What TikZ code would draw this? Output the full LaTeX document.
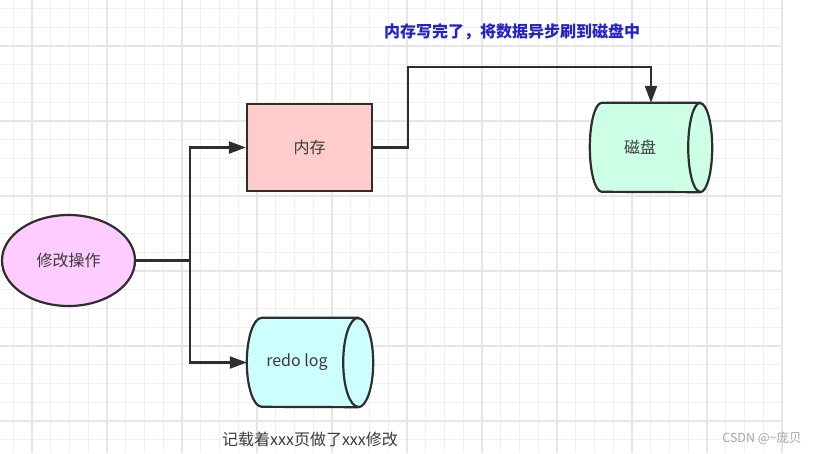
\documentclass[tikz,border=0pt]{standalone}
\usepackage{fontspec}
\setmainfont{Noto Sans CJK SC}
\usetikzlibrary{arrows.meta,shapes.geometric}
\definecolor{strokec}{HTML}{2E2E2E}
\definecolor{textc}{HTML}{3A3A3A}
\definecolor{opfill}{HTML}{FFCCFF}
\definecolor{memfill}{HTML}{FFCCCC}
\definecolor{diskfill}{HTML}{CCFFE6}
\definecolor{redofill}{HTML}{CCFFFF}
\definecolor{bluetext}{HTML}{2323C8}
\definecolor{gridminor}{HTML}{F0F0F0}
\definecolor{gridmajor}{HTML}{E6E6E6}
\tikzset{
  shapeline/.style={draw=strokec, line width=2.2pt},
  lbl/.style={font=\fontsize{16}{18}\selectfont, text=textc, inner sep=0pt},
  conn/.style={draw=strokec, line width=2.2pt},
  arr/.style={conn, -{Triangle[length=17pt,width=12pt]}},
  boxarea/.style={inner sep=0pt, draw=none}
}
\begin{document}
\begin{tikzpicture}[x=1pt,y=-1pt]
\useasboundingbox (0,0) rectangle (818,453);
\fill[white] (0,0) rectangle (818,453);
% grid
\foreach \k in {0,...,41} {\draw[gridminor, line width=0.9pt] ({13.25+18.75*\k},0) -- ({13.25+18.75*\k},453);}
\foreach \k in {0,...,23} {\draw[gridminor, line width=0.9pt] (0,{8.5+18.75*\k}) -- (782.5,{8.5+18.75*\k});}
\foreach \k in {0,...,10} {\draw[gridmajor, line width=1.1pt] ({32+75*\k},0) -- ({32+75*\k},453);}
\foreach \k in {0,...,5} {\draw[gridmajor, line width=1.1pt] (0,{46+75*\k}) -- (782.5,{46+75*\k});}

% nodes
\node[ellipse, shapeline, fill=opfill, minimum width=133pt, minimum height=91pt, inner sep=0pt, lbl] (op) at (68.5,260.5) {修改操作};
\node[rectangle, shapeline, fill=memfill, minimum width=125pt, minimum height=87pt, lbl] (mem) at (309.5,147.5) {内存};

\node[boxarea, minimum width=122pt, minimum height=89pt] (disk) at (651,147.5) {};
\draw[shapeline, fill=diskfill] ([xshift=-12pt]disk.north east) -- ([xshift=12pt]disk.north west)
  arc[start angle=90, end angle=270, x radius=12pt, y radius=44.5pt]
  -- ([xshift=-12pt]disk.south east)
  arc[start angle=-90, end angle=90, x radius=12pt, y radius=44.5pt] -- cycle;
\draw[shapeline] ([xshift=-12pt]disk.north east) arc[start angle=90, end angle=270, x radius=12pt, y radius=44.5pt];
\node[lbl] (disklabel) at ([xshift=-11pt]disk.center) {磁盘};

\node[boxarea, minimum width=126pt, minimum height=89pt] (redo) at (310,362.5) {};
\draw[shapeline, fill=redofill] ([xshift=-15pt]redo.north east) -- ([xshift=15pt]redo.north west)
  arc[start angle=90, end angle=270, x radius=15pt, y radius=44.5pt]
  -- ([xshift=-15pt]redo.south east)
  arc[start angle=-90, end angle=90, x radius=15pt, y radius=44.5pt] -- cycle;
\draw[shapeline] ([xshift=-15pt]redo.north east) arc[start angle=90, end angle=270, x radius=15pt, y radius=44.5pt];
\node[lbl] (redolabel) at ([xshift=-13pt]redo.center) {redo log};

% texts
\node[lbl, text=bluetext, font=\fontsize{16}{18}\selectfont\bfseries] (note) at (512,32) {内存写完了，将数据异步刷到磁盘中};
\node[lbl] (caption) at (310,439) {记载着xxx页做了xxx修改};
\node[lbl, text=gray!70, font=\fontsize{12.5}{14}\selectfont] (wm) at (762,438) {CSDN @\textasciitilde 庞贝};

% connectors
\coordinate (split) at (190,260.5);
\coordinate (up) at (408,67);
\draw[conn] (op.east) -- (split);
\draw[arr] (split) |- (mem.west);
\draw[arr] (split) |- (redo.west);
\draw[arr] (mem.east) -| (up) -| (disk.north);
\end{tikzpicture}
\end{document}
